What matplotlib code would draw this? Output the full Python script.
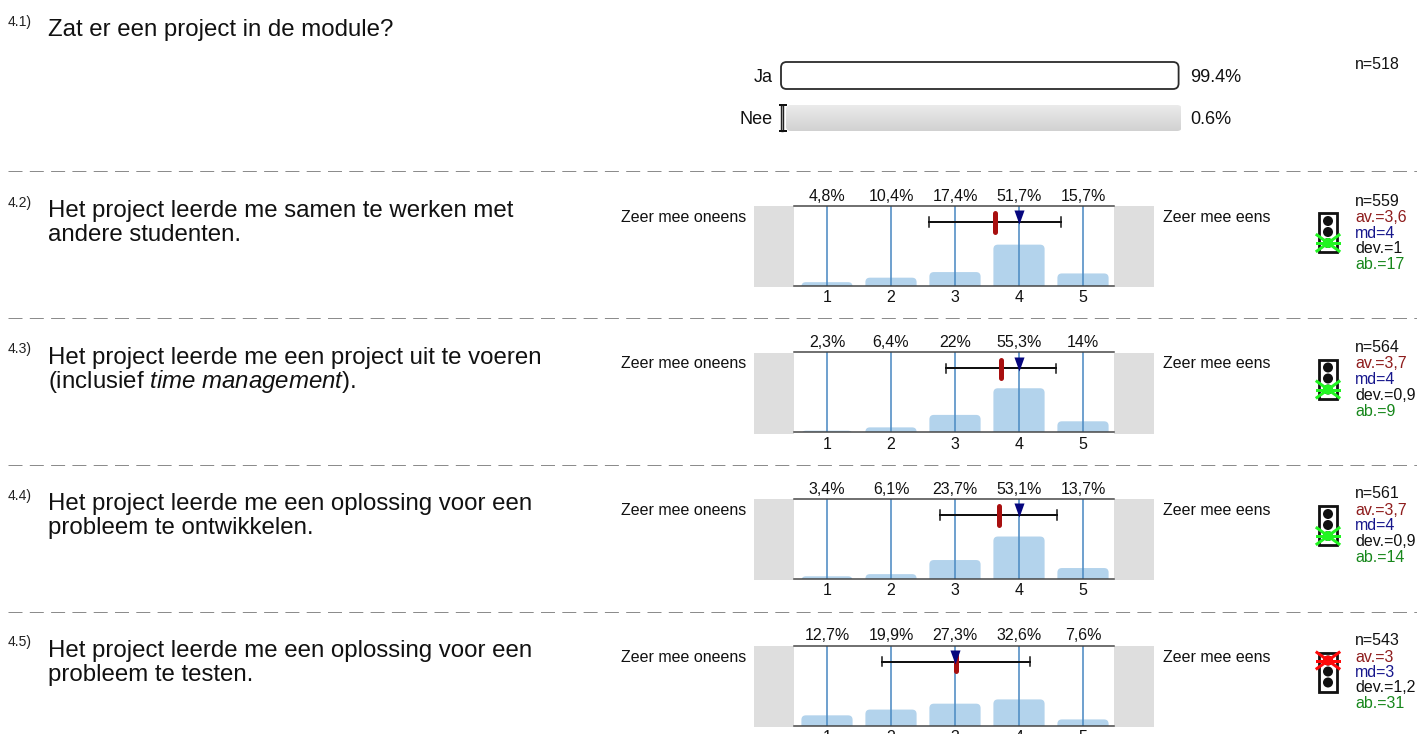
import matplotlib
matplotlib.use("Agg")
import matplotlib.pyplot as plt
import numpy as np
from matplotlib.patches import FancyBboxPatch, Rectangle, Circle
from matplotlib.path import Path

# ---------- data ----------
question_ids = ["4.1)", "4.2)", "4.3)", "4.4)", "4.5)"]
question_lines = [
    ["Zat er een project in de module?"],
    ["Het project leerde me samen te werken met", "andere studenten."],
    ["Het project leerde me een project uit te voeren", "(inclusief $\\mathit{time\\ management}$)."],
    ["Het project leerde me een oplossing voor een", "probleem te ontwikkelen."],
    ["Het project leerde me een oplossing voor een", "probleem te testen."],
]
yn_labels = ["Ja", "Nee"]
yn_values = [99.4, 0.6]
yn_text = ["99.4%", "0.6%"]
yn_n = "n=518"

scale_points = [1, 2, 3, 4, 5]
left_label = "Zeer mee oneens"
right_label = "Zeer mee eens"
pct_q2 = [4.8, 10.4, 17.4, 51.7, 15.7]
pct_q3 = [2.3, 6.4, 22.0, 55.3, 14.0]
pct_q4 = [3.4, 6.1, 23.7, 53.1, 13.7]
pct_q5 = [12.7, 19.9, 27.3, 32.6, 7.6]
pct_text_q2 = ["4,8%", "10,4%", "17,4%", "51,7%", "15,7%"]
pct_text_q3 = ["2,3%", "6,4%", "22%", "55,3%", "14%"]
pct_text_q4 = ["3,4%", "6,1%", "23,7%", "53,1%", "13,7%"]
pct_text_q5 = ["12,7%", "19,9%", "27,3%", "32,6%", "7,6%"]
means = [3.63, 3.72, 3.68, 3.02]
medians = [4, 4, 4, 3]
devs = [1.03, 0.86, 0.91, 1.155]
n_vals = ["n=559", "n=564", "n=561", "n=543"]
av_vals = ["av.=3,6", "av.=3,7", "av.=3,7", "av.=3"]
md_vals = ["md=4", "md=4", "md=4", "md=3"]
dev_vals = ["dev.=1", "dev.=0,9", "dev.=0,9", "dev.=1,2"]
ab_vals = ["ab.=17", "ab.=9", "ab.=14", "ab.=31"]
light_state = ["green", "green", "green", "red"]

# ---------- layout ----------
W, H = 1417, 734
plt.rcParams["font.family"] = ["Liberation Sans", "DejaVu Sans"]
plt.rcParams["mathtext.fontset"] = "custom"
plt.rcParams["mathtext.rm"] = "Liberation Sans"
plt.rcParams["mathtext.it"] = "Liberation Sans:italic"
plt.rcParams["mathtext.default"] = "regular"
px = 72 / 100
FS = 16 * px
FQ = 24 * px
FN = 14 * px

fig = plt.figure(figsize=(W / 100, H / 100), dpi=100, facecolor="white")


def axes_px(x0, y0, x1, y1, **kw):
    return fig.add_axes([x0 / W, 1 - y1 / H, (x1 - x0) / W, (y1 - y0) / H], **kw)


bg = axes_px(0, 0, W, H)
bg.set_xlim(0, W)
bg.set_ylim(H, 0)
bg.axis("off")
bg.set_zorder(5)
bg.patch.set_alpha(0)


def label(x, y, s, size=FS, ha="left", color="#111111"):
    bg.text(x, y, s, fontsize=size, ha=ha, va="baseline", color=color, clip_on=True)


# separators
for y in [170.8, 317.8, 464.8, 611.8]:
    bg.plot([8, W], [y, y], color="#8c8c8c", lw=1 * px, dashes=(14, 7.3))

# question text
q_base = [36, 217, 364, 510, 657]
q_num_base = [26, 207, 353, 500, 646]
for qid, lines, b, nb in zip(question_ids, question_lines, q_base, q_num_base):
    label(8, nb, qid, size=FN, color="#222222")
    for i, line in enumerate(lines):
        label(48, b + 24 * i, line, size=FQ, color="#111111")

# ---------- yes / no block ----------
yn_rows = [(62, 89), (105, 131)]
grad = np.linspace(0.92, 0.82, 64)[:, None]
for lab, val, txt, (y0, y1) in zip(yn_labels, yn_values, yn_text, yn_rows):
    ax = axes_px(781, y0, 1181, y1)
    ax.set_xlim(0, 100)
    ax.set_ylim(0, 1)
    ax.axis("off")
    h_px = y1 - y0
    if val < 50:
        ims = ax.imshow(grad, extent=(1.2, 100.3, 0, 1), aspect="auto", cmap="gray",
                        vmin=0, vmax=1, zorder=1)
        clip = FancyBboxPatch((1.2, 0), 99.1, 1, boxstyle="round,pad=0,rounding_size=1.3",
                              mutation_aspect=4 / h_px, fc="none", ec="none", clip_on=False)
        ax.add_patch(clip)
        ims.set_clip_path(clip)
        ims.set_clip_on(True)
        ax.set_xlim(0, 100)
        ax.set_ylim(0, 1)
        ax.add_patch(Rectangle((0, 0), val, 1, fc="#dddddd", ec="#222222", lw=1.4 * px,
                               zorder=3, clip_on=False))
        ax.errorbar([val], [0.5], yerr=[[0.5], [0.5]], color="#111111", elinewidth=0,
                    capsize=4 * px, capthick=2 * px, zorder=4, clip_on=False)
    else:
        ax.add_patch(FancyBboxPatch((0, 0), val, 1, boxstyle="round,pad=0,rounding_size=1.4",
                                    mutation_aspect=4 / h_px, fc="white", ec="#2a2a2a",
                                    lw=1.8 * px, zorder=3, clip_on=False))
    base = (y0 + y1) / 2 + 6
    label(773, base, lab, ha="right", size=18 * px)
    label(1190, base, txt, size=18 * px)
label(1355, 69, yn_n)

# ---------- scale panels ----------
panel_tops = [206, 352.5, 499, 645.5]
panel_h = 80
TRI = Path([(-0.36, 0.5), (0.36, 0.5), (0, -0.5), (-0.36, 0.5)], closed=True)
all_pct = [pct_q2, pct_q3, pct_q4, pct_q5]
all_txt = [pct_text_q2, pct_text_q3, pct_text_q4, pct_text_q5]
LIGHT = {"green": "#22f522", "red": "#ff0a0a"}

for i, top in enumerate(panel_tops):
    bg.add_patch(Rectangle((754, top), 40, panel_h + 1, fc="#dedede", ec="none", zorder=0))
    bg.add_patch(Rectangle((1114, top), 40, panel_h + 1, fc="#dedede", ec="none", zorder=0))
    ax = axes_px(794, top, 1114, top + panel_h)
    ax.set_zorder(6)
    ax.set_xlim(1 - 33 / 64, 5 + 31 / 64)
    ax.set_ylim(0, 100)
    ax.set_yticks([])
    ax.set_xticks(scale_points)
    ax.set_xticklabels([str(p) for p in scale_points], fontsize=FS, color="#111111")
    ax.tick_params(axis="x", length=0, pad=3.2)
    for s in ["left", "right"]:
        ax.spines[s].set_visible(False)
    for s in ["top", "bottom"]:
        ax.spines[s].set_color("#444444")
        ax.spines[s].set_linewidth(1.5 * px)
    for p, v, t in zip(scale_points, all_pct[i], all_txt[i]):
        ax.add_patch(FancyBboxPatch((p - 0.4, -8), 0.8, v + 8,
                                    boxstyle="round,pad=0,rounding_size=0.07",
                                    mutation_aspect=80, fc="#b3d3ec", ec="none", zorder=1))
        ax.axvline(p, color="#4f8cc4", lw=1.6 * px, zorder=2)
        ax.text(p, 102.5, t, ha="center", va="bottom", fontsize=FS, color="#111111", clip_on=False)
    yw = 80
    ax.plot([means[i] - devs[i], means[i] + devs[i]], [yw, yw], color="#111111", lw=2 * px, zorder=3)
    for xc in [means[i] - devs[i], means[i] + devs[i]]:
        ax.plot([xc, xc], [yw - 6, yw + 6], color="#111111", lw=1.5 * px, zorder=3)
    ax.plot([means[i], means[i]], [yw - 12, yw + 11], color="#a80f0f", lw=5 * px,
            solid_capstyle="round", zorder=4)
    ax.plot([medians[i]], [yw + 6], marker=TRI, ms=14 * px, color="#06067e", mew=0, zorder=5)

    label(746, top + 16, left_label, ha="right")
    label(1163, top + 16, right_label)

    # traffic light
    tl = axes_px(1319, top + 7, 1337, top + 46)
    tl.set_zorder(7)
    tl.set_xlim(0, 18)
    tl.set_ylim(39, 0)
    tl.axis("off")
    tl.add_patch(Rectangle((0, 0), 18, 39, fc="white", ec="#111111", lw=2.8 * px, clip_on=False))
    centres = [8, 19, 30]
    for c in centres:
        tl.add_patch(Circle((9, c), 5, fc="#111111", ec="none"))
    cy = centres[-1] if light_state[i] == "green" else centres[0]
    col = LIGHT[light_state[i]]
    for (dx, dy) in [(11, 8), (11, -8), (11, 0)]:
        tl.plot([9 - dx, 9 + dx], [cy - dy, cy + dy], color=col, lw=3 * px, clip_on=False, zorder=5)
    tl.add_patch(Circle((9, cy), 5, fc=col, ec="none", zorder=6))

    # stats
    sx = 1355
    label(sx, top - 0.5, n_vals[i])
    label(sx, top + 16, av_vals[i], color="#8e1c1c")
    label(sx, top + 31.5, md_vals[i], color="#16168c")
    label(sx, top + 47, dev_vals[i])
    label(sx, top + 63, ab_vals[i], color="#17871b")

fig.savefig("out.png", dpi=100, facecolor="white")
